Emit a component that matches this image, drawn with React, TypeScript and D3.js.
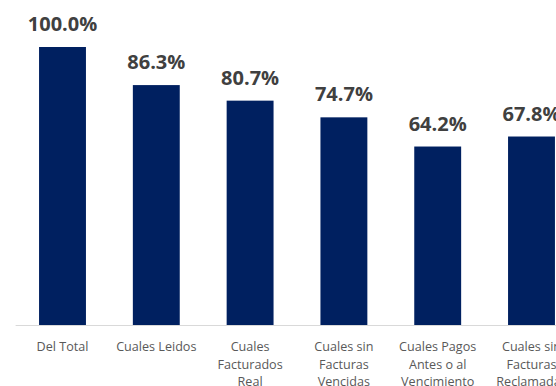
import React from "react";
import * as d3 from "d3";

const categories: string[][] = [
  ["Del Total"],
  ["Cuales Leidos"],
  ["Cuales", "Facturados", "Real"],
  ["Cuales sin", "Facturas", "Vencidas"],
  ["Cuales Pagos", "Antes o al", "Vencimiento"],
  ["Cuales sin", "Facturas", "Reclamadas"],
];
const values: number[] = [100.0, 86.3, 80.7, 74.7, 64.2, 67.8];

const W = 556;
const H = 386;

export default function App() {
  const ids = categories.map((_, i) => String(i));
  const x = d3.scaleBand<string>().domain(ids).range([15.6, 578.4]).paddingInner(0.5).paddingOuter(0.25);
  const y = d3.scaleLinear().domain([0, 100]).range([325, 47]);
  const font = "'Open Sans', 'DejaVu Sans', sans-serif";
  return (
    <svg width={W} height={H} style={{ position: "absolute", left: 0, top: 0, display: "block", background: "#fff" }}>
      <line x1={15.6} x2={W} y1={325.5} y2={325.5} stroke="#d9d9d9" strokeWidth={1.2} />
      {values.map((v, i) => {
        const bx = x(ids[i])!;
        const bw = x.bandwidth();
        return (
          <g key={i}>
            <rect x={bx} y={y(v)} width={bw} height={y(0) - y(v)} fill="#002060" />
            <text
              x={bx + bw / 2}
              y={y(v) - 16}
              textAnchor="middle"
              fontFamily={font}
              fontWeight={700}
              fontSize={20}
              fill="#404040"
            >
              {v.toFixed(1) + "%"}
            </text>
            {categories[i].map((line, j) => (
              <text
                key={j}
                x={bx + bw / 2}
                y={351 + j * 17.5}
                textAnchor="middle"
                fontFamily={font}
                fontSize={12.6}
                fill="#595959"
              >
                {line}
              </text>
            ))}
          </g>
        );
      })}
    </svg>
  );
}
